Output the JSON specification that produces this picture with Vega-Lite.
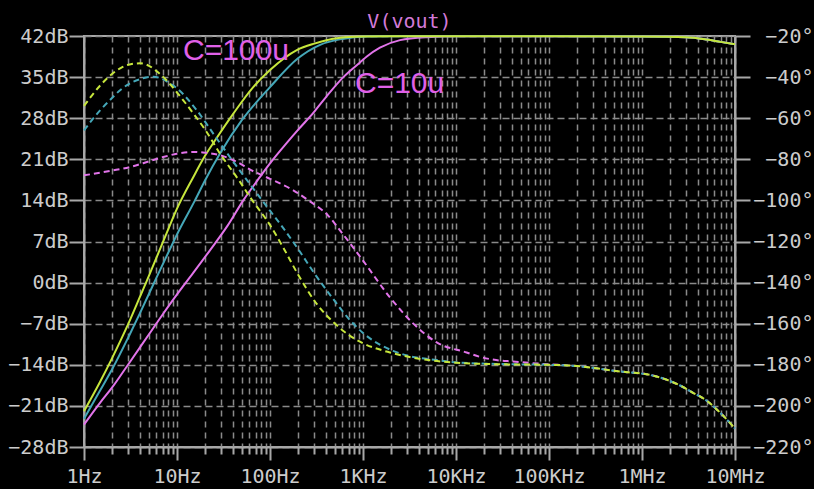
{
  "$schema": "https://vega.github.io/schema/vega-lite/v6.json",
  "width": 651,
  "height": 411,
  "autosize": "none",
  "padding": {"left": 84, "top": 36, "right": 79, "bottom": 42},
  "background": "#000000",
  "title": {"text": "V(vout)", "color": "#d27ad8", "font": "DejaVu Sans Mono", "fontSize": 20, "fontWeight": "normal", "anchor": "middle", "offset": -6},
  "config": {
    "view": {"stroke": "#a8a8a8", "strokeWidth": 2},
    "axis": {
      "domainColor": "#a8a8a8", "domainWidth": 2, "tickColor": "#a8a8a8", "tickWidth": 2,
      "labelColor": "#cccccc", "labelFont": "DejaVu Sans Mono", "labelFontSize": 20,
      "gridColor": "#8a8a8a", "gridWidth": 1.5, "labelOverlap": false, "labelFlush": false, "title": null
    }
  },
  "datasets": {
    "mag": [
      {"s": "m", "f": 1, "v": -24.2}, {"s": "m", "f": 1.5, "v": -20.4}, {"s": "m", "f": 2, "v": -17.9}, {"s": "m", "f": 3, "v": -13.9},
      {"s": "m", "f": 5, "v": -8.8}, {"s": "m", "f": 7.1, "v": -5.3}, {"s": "m", "f": 10, "v": -2.0}, {"s": "m", "f": 15, "v": 1.7},
      {"s": "m", "f": 22.6, "v": 5.5}, {"s": "m", "f": 35, "v": 9.7}, {"s": "m", "f": 51.6, "v": 14.0}, {"s": "m", "f": 78, "v": 18.0},
      {"s": "m", "f": 100, "v": 20.3}, {"s": "m", "f": 150, "v": 23.7}, {"s": "m", "f": 200, "v": 26.0}, {"s": "m", "f": 292, "v": 28.9},
      {"s": "m", "f": 400, "v": 31.6}, {"s": "m", "f": 614, "v": 35.0}, {"s": "m", "f": 929, "v": 37.5}, {"s": "m", "f": 1100, "v": 38.5},
      {"s": "m", "f": 1520, "v": 40.0}, {"s": "m", "f": 2500, "v": 41.3}, {"s": "m", "f": 4800, "v": 41.8}, {"s": "m", "f": 10000, "v": 41.95},
      {"s": "m", "f": 100000, "v": 41.95}, {"s": "m", "f": 1000000, "v": 41.9}, {"s": "m", "f": 3000000, "v": 41.8}, {"s": "m", "f": 5000000, "v": 41.4},
      {"s": "m", "f": 7000000, "v": 41.0}, {"s": "m", "f": 10000000, "v": 40.6},
      {"s": "t", "f": 1, "v": -23.2}, {"s": "t", "f": 1.5, "v": -18.3}, {"s": "t", "f": 2, "v": -14.8}, {"s": "t", "f": 3, "v": -9.3},
      {"s": "t", "f": 4, "v": -5.2}, {"s": "t", "f": 6, "v": 0.8}, {"s": "t", "f": 8, "v": 5.0}, {"s": "t", "f": 10, "v": 8.2},
      {"s": "t", "f": 15.6, "v": 14.0}, {"s": "t", "f": 20, "v": 17.4}, {"s": "t", "f": 29, "v": 22.0}, {"s": "t", "f": 50, "v": 27.7},
      {"s": "t", "f": 100, "v": 33.3}, {"s": "t", "f": 200, "v": 38.2}, {"s": "t", "f": 346, "v": 40.5}, {"s": "t", "f": 600, "v": 41.5},
      {"s": "t", "f": 1100, "v": 41.9}, {"s": "t", "f": 2000, "v": 41.95}, {"s": "t", "f": 100000, "v": 41.95}, {"s": "t", "f": 1000000, "v": 41.9},
      {"s": "t", "f": 3000000, "v": 41.8}, {"s": "t", "f": 5000000, "v": 41.4}, {"s": "t", "f": 7000000, "v": 41.0}, {"s": "t", "f": 10000000, "v": 40.6},
      {"s": "y", "f": 1, "v": -21.9}, {"s": "y", "f": 1.5, "v": -16.8}, {"s": "y", "f": 2, "v": -12.9}, {"s": "y", "f": 3, "v": -7.0},
      {"s": "y", "f": 4, "v": -2.4}, {"s": "y", "f": 5, "v": 1.2}, {"s": "y", "f": 6, "v": 4.2}, {"s": "y", "f": 8, "v": 9.0},
      {"s": "y", "f": 10, "v": 12.6}, {"s": "y", "f": 15, "v": 18.0}, {"s": "y", "f": 20, "v": 21.6}, {"s": "y", "f": 25.6, "v": 24.2},
      {"s": "y", "f": 40, "v": 28.7}, {"s": "y", "f": 66, "v": 33.3}, {"s": "y", "f": 100, "v": 36.2}, {"s": "y", "f": 194, "v": 39.6},
      {"s": "y", "f": 300, "v": 40.7}, {"s": "y", "f": 521, "v": 41.6}, {"s": "y", "f": 1000, "v": 41.9}, {"s": "y", "f": 2000, "v": 41.95},
      {"s": "y", "f": 100000, "v": 41.95}, {"s": "y", "f": 1000000, "v": 41.9}, {"s": "y", "f": 3000000, "v": 41.8}, {"s": "y", "f": 5000000, "v": 41.4},
      {"s": "y", "f": 7000000, "v": 41.0}, {"s": "y", "f": 10000000, "v": 40.6}
    ],
    "ph": [
      {"s": "m", "f": 1, "v": -87.8}, {"s": "m", "f": 2, "v": -85.5}, {"s": "m", "f": 3.1, "v": -83.8}, {"s": "m", "f": 5, "v": -81.0},
      {"s": "m", "f": 7.1, "v": -78.9}, {"s": "m", "f": 10, "v": -77.3}, {"s": "m", "f": 15, "v": -76.4}, {"s": "m", "f": 20, "v": -76.8},
      {"s": "m", "f": 29, "v": -78.0}, {"s": "m", "f": 45, "v": -81.5}, {"s": "m", "f": 61, "v": -85.0}, {"s": "m", "f": 100, "v": -89.5},
      {"s": "m", "f": 178, "v": -95.1}, {"s": "m", "f": 269, "v": -100.5}, {"s": "m", "f": 424, "v": -107.5}, {"s": "m", "f": 566, "v": -114.6},
      {"s": "m", "f": 1000, "v": -129.3}, {"s": "m", "f": 1950, "v": -147.2}, {"s": "m", "f": 3500, "v": -160.1}, {"s": "m", "f": 6200, "v": -169.1},
      {"s": "m", "f": 13000, "v": -174.0}, {"s": "m", "f": 18000, "v": -176.1}, {"s": "m", "f": 27000, "v": -177.7}, {"s": "m", "f": 41000, "v": -178.4},
      {"s": "m", "f": 94000, "v": -179.7},
      {"s": "m", "f": 200000, "v": -180.6}, {"s": "m", "f": 300000, "v": -181.5}, {"s": "m", "f": 500000, "v": -182.9}, {"s": "m", "f": 700000, "v": -183.6},
      {"s": "m", "f": 1120000, "v": -184.6}, {"s": "m", "f": 1600000, "v": -186.3}, {"s": "m", "f": 2600000, "v": -190.2}, {"s": "m", "f": 3500000, "v": -193.5},
      {"s": "m", "f": 5000000, "v": -197.6}, {"s": "m", "f": 7000000, "v": -203.5}, {"s": "m", "f": 10000000, "v": -211.0},
      {"s": "t", "f": 1, "v": -65.9}, {"s": "t", "f": 1.5, "v": -56.0}, {"s": "t", "f": 1.9, "v": -51.2}, {"s": "t", "f": 2.5, "v": -46.0},
      {"s": "t", "f": 3, "v": -43.5}, {"s": "t", "f": 4, "v": -41.0}, {"s": "t", "f": 5.6, "v": -39.8}, {"s": "t", "f": 7, "v": -41.0},
      {"s": "t", "f": 8.4, "v": -43.1}, {"s": "t", "f": 10, "v": -45.5}, {"s": "t", "f": 16.3, "v": -56.1}, {"s": "t", "f": 25, "v": -68.0},
      {"s": "t", "f": 37, "v": -78.9}, {"s": "t", "f": 63, "v": -93.0}, {"s": "t", "f": 100, "v": -105.0}, {"s": "t", "f": 139, "v": -113.5},
      {"s": "t", "f": 210, "v": -125.0}, {"s": "t", "f": 300, "v": -135.5}, {"s": "t", "f": 479, "v": -148.0}, {"s": "t", "f": 700, "v": -157.5},
      {"s": "t", "f": 1000, "v": -164.5}, {"s": "t", "f": 2100, "v": -173.2}, {"s": "t", "f": 3000, "v": -175.5}, {"s": "t", "f": 6200, "v": -177.7},
      {"s": "t", "f": 10000, "v": -178.8}, {"s": "t", "f": 27000, "v": -179.6}, {"s": "t", "f": 100000, "v": -180.0},
      {"s": "t", "f": 200000, "v": -180.6}, {"s": "t", "f": 300000, "v": -181.5}, {"s": "t", "f": 500000, "v": -182.9}, {"s": "t", "f": 700000, "v": -183.6},
      {"s": "t", "f": 1120000, "v": -184.6}, {"s": "t", "f": 1600000, "v": -186.3}, {"s": "t", "f": 2600000, "v": -190.2}, {"s": "t", "f": 3500000, "v": -193.5},
      {"s": "t", "f": 5000000, "v": -197.6}, {"s": "t", "f": 7000000, "v": -203.5}, {"s": "t", "f": 10000000, "v": -211.0},
      {"s": "y", "f": 1, "v": -54.0}, {"s": "y", "f": 1.5, "v": -44.0}, {"s": "y", "f": 2, "v": -38.5}, {"s": "y", "f": 2.5, "v": -35.5},
      {"s": "y", "f": 3, "v": -34.0}, {"s": "y", "f": 4, "v": -33.3}, {"s": "y", "f": 5, "v": -34.5}, {"s": "y", "f": 6, "v": -37.0},
      {"s": "y", "f": 7.7, "v": -41.5}, {"s": "y", "f": 10, "v": -47.5}, {"s": "y", "f": 15, "v": -57.7}, {"s": "y", "f": 20, "v": -65.5},
      {"s": "y", "f": 29, "v": -77.2}, {"s": "y", "f": 47.6, "v": -91.0}, {"s": "y", "f": 61, "v": -98.4}, {"s": "y", "f": 100, "v": -112.0},
      {"s": "y", "f": 139, "v": -123.0}, {"s": "y", "f": 200, "v": -136.0}, {"s": "y", "f": 318, "v": -150.4}, {"s": "y", "f": 500, "v": -160.0},
      {"s": "y", "f": 725, "v": -165.9}, {"s": "y", "f": 1000, "v": -169.5}, {"s": "y", "f": 1950, "v": -174.0}, {"s": "y", "f": 3000, "v": -176.0},
      {"s": "y", "f": 5700, "v": -178.0}, {"s": "y", "f": 10000, "v": -179.0}, {"s": "y", "f": 27000, "v": -179.7}, {"s": "y", "f": 100000, "v": -180.0},
      {"s": "y", "f": 200000, "v": -180.6}, {"s": "y", "f": 300000, "v": -181.5}, {"s": "y", "f": 500000, "v": -182.9}, {"s": "y", "f": 700000, "v": -183.6},
      {"s": "y", "f": 1120000, "v": -184.6}, {"s": "y", "f": 1600000, "v": -186.3}, {"s": "y", "f": 2600000, "v": -190.2}, {"s": "y", "f": 3500000, "v": -193.5},
      {"s": "y", "f": 5000000, "v": -197.6}, {"s": "y", "f": 7000000, "v": -203.5}, {"s": "y", "f": 10000000, "v": -211.0}
    ],
    "notes": [
      {"label": "C=100u", "f": 11.6, "v": 37.9},
      {"label": "C=10u", "f": 820, "v": 32.3}
    ]
  },
  "layer": [
    {
      "data": {"name": "mag"},
      "mark": {"type": "line", "strokeWidth": 2, "interpolate": "monotone"},
      "encoding": {
        "x": {
          "field": "f", "type": "quantitative",
          "scale": {"type": "log", "domain": [1, 10000000], "nice": false},
          "axis": {
            "orient": "bottom",
            "values": [1, 10, 100, 1000, 10000, 100000, 1000000, 10000000],
            "labelExpr": "datum.value == 1 ? '1Hz' : datum.value == 10 ? '10Hz' : datum.value == 100 ? '100Hz' : datum.value == 1000 ? '1KHz' : datum.value == 10000 ? '10KHz' : datum.value == 100000 ? '100KHz' : datum.value == 1000000 ? '1MHz' : '10MHz'",
            "tickSize": 13, "labelPadding": 6, "grid": true, "gridDash": [6, 5]
          }
        },
        "y": {
          "field": "v", "type": "quantitative",
          "scale": {"domain": [-28, 42], "nice": false, "zero": false},
          "axis": {
            "orient": "left",
            "values": [-28, -21, -14, -7, 0, 7, 14, 21, 28, 35, 42],
            "labelExpr": "datum.label + 'dB'",
            "tickSize": 15, "labelPadding": 1, "grid": true, "gridDash": [7, 4]
          }
        },
        "color": {
          "field": "s", "type": "nominal",
          "scale": {"domain": ["m", "t", "y"], "range": ["#e274ea", "#45a7b8", "#c6e63c"]},
          "legend": null
        }
      }
    },
    {
      "data": {"name": "ph"},
      "mark": {"type": "line", "strokeWidth": 2, "strokeDash": [6, 4], "interpolate": "monotone"},
      "encoding": {
        "x": {
          "field": "f", "type": "quantitative",
          "scale": {"type": "log", "domain": [1, 10000000], "nice": false},
          "axis": {
            "orient": "bottom",
            "values": [2,3,4,5,6,7,8,9,20,30,40,50,60,70,80,90,200,300,400,500,600,700,800,900,2000,3000,4000,5000,6000,7000,8000,9000,20000,30000,40000,50000,60000,70000,80000,90000,200000,300000,400000,500000,600000,700000,800000,900000,2000000,3000000,4000000,5000000,6000000,7000000,8000000,9000000],
            "labels": false, "domain": false, "tickSize": 7, "grid": true, "gridDash": [6, 5]
          }
        },
        "y": {
          "field": "v", "type": "quantitative",
          "scale": {"domain": [-220, -20], "nice": false, "zero": false},
          "axis": {
            "orient": "right",
            "values": [-220, -200, -180, -160, -140, -120, -100, -80, -60, -40, -20],
            "labelExpr": "datum.label + '°'",
            "tickSize": 15, "labelPadding": 63, "labelAlign": "right", "grid": false
          }
        },
        "color": {"field": "s", "type": "nominal", "legend": null}
      }
    },
    {
      "data": {"name": "notes"},
      "mark": {"type": "text", "font": "Liberation Sans", "fontSize": 30, "align": "left", "baseline": "alphabetic", "color": "#e060e8"},
      "encoding": {
        "x": {"field": "f", "type": "quantitative", "scale": {"type": "log", "domain": [1, 10000000], "nice": false}, "axis": null},
        "y": {"field": "v", "type": "quantitative", "scale": {"domain": [-28, 42], "nice": false, "zero": false}, "axis": null},
        "text": {"field": "label"}
      }
    }
  ],
  "resolve": {"scale": {"y": "independent"}, "axis": {"x": "independent", "y": "independent"}}
}
